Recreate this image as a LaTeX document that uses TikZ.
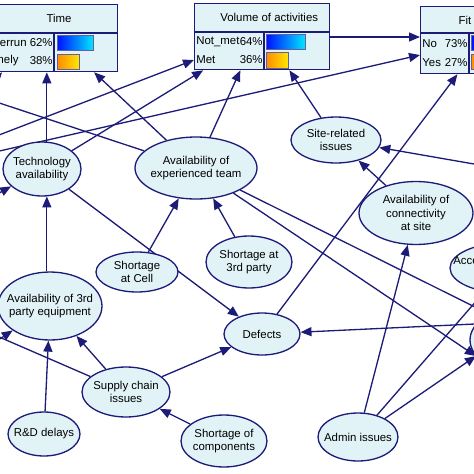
\documentclass[tikz,border=0pt]{standalone}
\usepackage{fontspec}
\setmainfont{Liberation Sans}
\usetikzlibrary{arrows.meta,positioning,calc,shapes.geometric,backgrounds}
\definecolor{bnline}{HTML}{1C1C78}
\definecolor{bnfill}{HTML}{E2F3F8}
\definecolor{barblue}{HTML}{0010FF}
\definecolor{barcyan}{HTML}{00E5FF}
\definecolor{barorange}{HTML}{FF8A00}
\definecolor{baryellow}{HTML}{FFE600}
\tikzset{
  bn/.style={ellipse, draw=bnline, fill=bnfill, line width=0.75pt, inner sep=0pt},
  monitor/.style={rectangle, draw=bnline, fill=bnfill, line width=0.75pt, inner sep=0pt, anchor=north west},
  montext/.style={inner sep=0pt},
  link/.style={draw=bnline, line width=0.75pt, -{Triangle[length=2.2mm,width=1.8mm]}},
  barhi/.style={draw=bnline!70, line width=0.3pt, left color=barblue, right color=barcyan},
  barlo/.style={draw=bnline!70, line width=0.3pt, left color=barorange, right color=baryellow}
}
\begin{document}
\begin{tikzpicture}[x=0.02cm, y=-0.02cm, font=\fontsize{6.5}{7.6}\selectfont]
\useasboundingbox (0,0) rectangle (474,474);
\clip (0,0) rectangle (474,474);
% ---------------- monitors ----------------
\node[monitor, minimum width=2.66cm, minimum height=1.34cm] (time) at (-16,4) {};
\draw[bnline, line width=0.75pt] (-16,33) -- (117,33) (54,33) -- (54,71);
\node[montext] at (59,18) {Time};
\node[montext, anchor=west] at (-15,43) {Overrun};
\node[montext, anchor=east] at (53,43) {62\%};
\node[montext, anchor=west] at (-15,61) {Timely};
\node[montext, anchor=east] at (53,61) {38\%};
\fill[barhi] (57,35) rectangle (93,50);
\fill[barlo] (57,54) rectangle (79,69);

\node[monitor, minimum width=2.70cm, minimum height=1.32cm] (volume) at (194,3) {};
\draw[bnline, line width=0.75pt] (194,32) -- (329,32) (264,32) -- (264,69);
\node[montext, anchor=west] at (220,17) {Volume of activities};
\node[montext, anchor=west] at (196,42) {Not\_met};
\node[montext, anchor=east] at (263,42) {64\%};
\node[montext, anchor=west] at (196,60) {Met};
\node[montext, anchor=east] at (263,60) {36\%};
\fill[barhi] (266,34) rectangle (305,49);
\fill[barlo] (266,52) rectangle (288,68);

\node[monitor, minimum width=2.2cm, minimum height=1.34cm] (fit) at (420,6) {};
\draw[bnline, line width=0.75pt] (420,33) -- (530,33) (469,33) -- (469,73);
\node[montext] at (465,20) {Fit};
\node[montext, anchor=west] at (422,44) {No};
\node[montext, anchor=east] at (468,44) {73\%};
\node[montext, anchor=west] at (422,63) {Yes};
\node[montext, anchor=east] at (468,63) {27\%};
\fill[barhi] (471,35) rectangle (520,50);
\fill[barlo] (471,54) rectangle (495,69);

% ---------------- chance nodes ----------------
\node[bn, minimum width=1.56cm, minimum height=1.08cm, label={[align=center]center:Technology\\availability}] (tech) at (42,169) {};
\node[bn, minimum width=2.44cm, minimum height=1.24cm, label={[align=center]center:Availability of\\experienced team}] (team) at (196,168) {};
\node[bn, minimum width=1.8cm, minimum height=0.92cm, label={[align=center]center:Site-related\\issues}] (site) at (336,140) {};
\node[bn, minimum width=2.28cm, minimum height=1.26cm, label={[align=center]center:Availability of\\connectivity\\at site}] (conn) at (416,213) {};
\node[bn, minimum width=2.2cm, minimum height=1.0cm] (access) at (505,268) {};
\node[montext, anchor=west] at (453,262) {Accessibility};
\node[bn, minimum width=2.0cm, minimum height=1.28cm] (offright) at (520,340) {};
\node[bn, minimum width=1.64cm, minimum height=0.8cm, label={[align=center]center:Shortage\\at Cell}] (cell) at (137,272) {};
\node[bn, minimum width=1.72cm, minimum height=1.04cm, label={[align=center]center:Shortage at\\3rd party}] (third) at (249,262) {};
\node[bn, minimum width=2.08cm, minimum height=1.36cm, label={[align=center]center:Availability of 3rd\\party equipment}] (equip) at (50,306) {};
\node[bn, minimum width=1.52cm, minimum height=0.84cm, label={center:Defects}] (defects) at (262,334) {};
\node[bn, minimum width=1.76cm, minimum height=1.0cm, label={[align=center]center:Supply chain\\issues}] (supply) at (126,392) {};
\node[bn, minimum width=1.44cm, minimum height=0.88cm, label={center:R\&D delays}] (rnd) at (44,434) {};
\node[bn, minimum width=1.72cm, minimum height=1.04cm, label={[align=center]center:Shortage of\\components}] (comp) at (224,441) {};
\node[bn, minimum width=1.6cm, minimum height=0.96cm, label={center:Admin issues}] (admin) at (358,437) {};

% nodes beyond the left edge
\coordinate (westA) at (-40,150);
\coordinate (westB) at (-40,160);
\coordinate (westC) at (-30,110);
\coordinate (westD) at (-40,90);
\coordinate (westE) at (-40,215);
\coordinate (westF) at (-40,365);
\coordinate (westG) at (-40,320);
\coordinate (eastA) at (520,172);

% ---------------- links ----------------
\begin{scope}[on background layer]
\clip (0,0) rectangle (474,474);
\draw[link] (tech.80) -- (tech.80 |- time.south);
\draw[link] (team) -- ($(time.south west)!0.82!(time.south east)$);
\draw[link] (tech) -- ($(volume.south west)!0.067!(volume.south east)$);
\draw[link] (team) -- ($(volume.south west)!0.34!(volume.south east)$);
\draw[link] (site) -- ($(volume.south west)!0.70!(volume.south east)$);
\draw[link] (westA) -- ($(volume.north west)+(0,57)$);
\draw[link] ($(volume.north east)+(0,34)$) -- ($(fit.north west)+(0,31)$);
\draw[link] (westB) -- ($(fit.north west)+(0,49)$);
\draw[link] (westC) -- ($(time.south west)+(18,0)$);
\draw[link] (cell) -- (team);
\draw[link] (third) -- (team);
\draw[link] (conn) -- (site);
\draw[link] (eastA) -- (site);
\draw[link] (defects) -- ($(fit.south west)!0.336!(fit.south east)$);
\draw[link] (admin) -- (conn);
\draw[link] (admin) -- (access);
\draw[link] (admin) -- (offright.200);
\draw[link] (team) -- (offright.200);
\draw[link] (team) -- (offright.140);
\draw[link] (offright.160) -- (defects);
\draw[link] (equip.north -| tech.280) -- (tech.280);
\draw[link] (westE) -- (tech);
\draw[link] (rnd) -- (equip);
\draw[link] (supply) -- (equip);
\draw[link] (westF) -- (equip);
\draw[link] (supply) -- (westG);
\draw[link] (supply) -- (defects);
\draw[link] (comp) -- (supply);
\draw[link] (team) -- (westD);
\draw[link] (tech) -- (defects);
\end{scope}
\end{tikzpicture}
\end{document}
